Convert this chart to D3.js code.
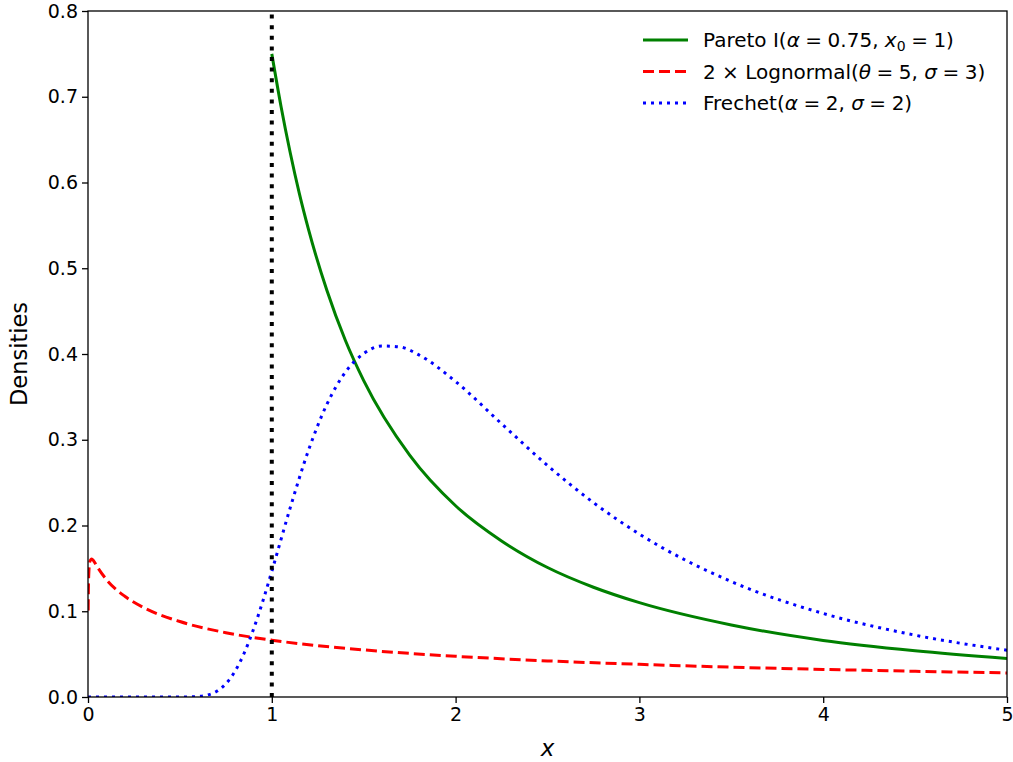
<!DOCTYPE html>
<html>
<head>
<meta charset="utf-8">
<script src="https://cdn.jsdelivr.net/npm/d3@7"></script>
<style>
  body { margin: 0; background: #fff; }
  svg { font-family: "DejaVu Sans", sans-serif; }
</style>
</head>
<body>
<svg id="chart" width="1013" height="762"></svg>
<script>
// valeurs
const paretoX = [1, 1.05, 1.1, 1.15, 1.2, 1.3, 1.4, 1.5, 1.75, 2, 2.25, 2.5, 2.75, 3, 3.5, 4, 4.5, 5];
const paretoY = [0.75, 0.689, 0.635, 0.587, 0.545, 0.474, 0.416, 0.369, 0.282, 0.223, 0.182, 0.151, 0.128, 0.110, 0.084, 0.066, 0.054, 0.045];

const lognX = [0.001, 0.002, 0.005, 0.01, 0.02, 0.03, 0.05, 0.1, 0.2, 0.3, 0.5, 0.75, 1, 1.5, 2, 2.5, 3, 3.5, 4, 4.5, 5];
const lognY = [0.101, 0.123, 0.147, 0.158, 0.161, 0.159, 0.152, 0.137, 0.1175, 0.1045, 0.088, 0.075, 0.0663, 0.0549, 0.0475, 0.0421, 0.0381, 0.0348, 0.0322, 0.030, 0.0281];

const frechetX = [0, 0.5, 0.6, 0.65, 0.7, 0.75, 0.8, 0.85, 0.9, 0.95, 1, 1.1, 1.2, 1.3, 1.4, 1.5, 1.6, 1.7, 1.8, 2, 2.25, 2.5, 2.75, 3, 3.5, 4, 4.5, 5];
const frechetY = [0, 0, 0.0006, 0.0023, 0.0066, 0.0155, 0.030, 0.0513, 0.0787, 0.111, 0.1465, 0.2205, 0.288, 0.3415, 0.3787, 0.4005, 0.4093, 0.408, 0.399, 0.3679, 0.3187, 0.270, 0.2267, 0.190, 0.1346, 0.0974, 0.0721, 0.0545];

const xTicks = [0, 1, 2, 3, 4, 5];
const yTicks = [0, 0.1, 0.2, 0.3, 0.4, 0.5, 0.6, 0.7, 0.8];
const vlineX = 1;

const width = 1013, height = 762;
const margin = { top: 11, right: 6, bottom: 65, left: 88 };

const svg = d3.select("#chart");

const x = d3.scaleLinear().domain([0, 5]).range([margin.left, width - margin.right]);
const y = d3.scaleLinear().domain([0, 0.8]).range([height - margin.bottom, margin.top]);

const series = [
    { id: "pareto", xs: paretoX, ys: paretoY, color: "#008000", dash: null },
    { id: "logn", xs: lognX, ys: lognY, color: "#ff0000", dash: "11,5" },
    { id: "frechet", xs: frechetX, ys: frechetY, color: "#0000ff", dash: "3,5" }
];

svg.append("clipPath").attr("id", "plotclip").append("rect")
    .attr("x", margin.left).attr("y", margin.top)
    .attr("width", x(5) - x(0)).attr("height", y(0) - y(0.8));

const line = d3.line().x(d => x(d[0])).y(d => y(d[1])).curve(d3.curveMonotoneX);

const plot = svg.append("g").attr("clip-path", "url(#plotclip)");

series.forEach(s => {
    const pts = s.xs.map((v, i) => [v, s.ys[i]]);
    plot.append("path").attr("d", line(pts))
        .attr("fill", "none").attr("stroke", s.color).attr("stroke-width", 3)
        .attr("stroke-dasharray", s.dash);
});

// ligne verticale x = 1
plot.append("line")
    .attr("x1", x(vlineX)).attr("x2", x(vlineX))
    .attr("y1", y(0)).attr("y2", y(0.8))
    .attr("stroke", "#000").attr("stroke-width", 4).attr("stroke-dasharray", "4,6.6");

// axes
const xAxis = svg.append("g").attr("transform", `translate(0,${y(0)})`)
    .call(d3.axisBottom(x).tickValues(xTicks).tickFormat(d3.format("d")).tickSize(6).tickPadding(5));
const yAxis = svg.append("g").attr("transform", `translate(${x(0)},0)`)
    .call(d3.axisLeft(y).tickValues(yTicks).tickFormat(d3.format(".1f")).tickSize(6).tickPadding(4));

[xAxis, yAxis].forEach(a => {
    a.select(".domain").remove();
    a.selectAll("line").attr("stroke", "#000").attr("stroke-width", 1.3);
    a.selectAll("text").attr("fill", "#000").style("font-size", "19px").style("font-family", "DejaVu Sans");
});

// cadre
svg.append("rect")
    .attr("x", x(0)).attr("y", y(0.8))
    .attr("width", x(5) - x(0)).attr("height", y(0) - y(0.8))
    .attr("fill", "none").attr("stroke", "#000").attr("stroke-width", 1.3);

svg.append("text")
    .attr("x", (x(0) + x(5)) / 2).attr("y", 756)
    .attr("text-anchor", "middle")
    .style("font-size", "23px").style("font-style", "italic")
    .text("x");

svg.append("text")
    .attr("transform", "rotate(-90)")
    .attr("x", -(y(0) + y(0.8)) / 2).attr("y", 27)
    .attr("text-anchor", "middle")
    .style("font-size", "22.5px")
    .text("Densities");

// légende : 0 = normal, 1 = italique, 2 = indice, 3 = signe égal espacé
const legendItems = [
    { color: "#008000", dash: null, parts: [["Pareto I(", 0], ["α", 1], ["=", 3], ["0.75, ", 0], ["x", 1], ["0", 2], ["=", 3], ["1)", 0]] },
    { color: "#ff0000", dash: "11,5", parts: [["2 × Lognormal(", 0], ["θ", 1], ["=", 3], ["5, ", 0], ["σ", 1], ["=", 3], ["3)", 0]] },
    { color: "#0000ff", dash: "3,5", parts: [["Frechet(", 0], ["α", 1], ["=", 3], ["2, ", 0], ["σ", 1], ["=", 3], ["2)", 0]] }
];

const legend = svg.append("g");
legendItems.forEach((item, i) => {
    const ly = 40 + i * 31.5;
    legend.append("line")
        .attr("x1", 643).attr("x2", 688).attr("y1", ly).attr("y2", ly)
        .attr("stroke", item.color).attr("stroke-width", 3).attr("stroke-dasharray", item.dash);
    const t = legend.append("text").attr("x", 703).attr("y", ly + 7).style("font-size", "20px").attr("xml:space", "preserve");
    let sub = false;
    let gap = 0;
    item.parts.forEach(p => {
        const ts = t.append("tspan").text(p[0]);
        if (gap) { ts.attr("dx", gap); gap = 0; }
        if (p[1] === 1) ts.style("font-style", "italic");
        if (p[1] === 2) { ts.style("font-size", "14px").attr("dy", 4); sub = true; }
        if (p[1] === 3) {
            ts.attr("dx", 5.5);
            if (sub) { ts.attr("dy", -4); sub = false; }
            gap = 5.5;
        }
    });
});
</script>
</body>
</html>
